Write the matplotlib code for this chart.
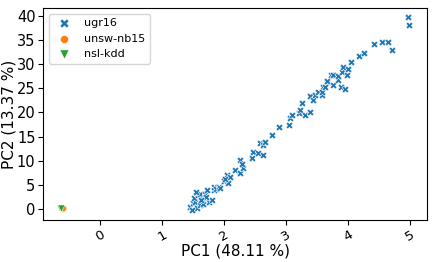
import matplotlib
matplotlib.use('Agg')
import matplotlib.pyplot as plt

# PC1 / PC2 coordinates
ugr_x = [1.45, 1.50, 1.53, 1.51, 1.56, 1.58, 1.61, 1.64, 1.61, 1.66, 1.69, 1.72, 1.75,
         1.80, 1.83, 1.83, 1.87, 1.91, 1.94, 1.48, 1.55, 1.70, 1.62, 1.99, 2.04, 2.07,
         2.10, 2.02, 2.18, 2.26, 2.26, 2.31, 2.28, 2.45, 2.47, 2.55, 2.58, 2.63, 2.63,
         2.66, 2.77, 2.88, 3.04, 3.06, 3.09, 3.20, 3.23, 3.25, 3.31, 3.39, 3.39, 3.44,
         3.47, 3.52, 3.58, 3.60, 3.66, 3.58, 3.62, 3.66, 3.73, 3.75, 3.76, 3.83, 3.84,
         3.89, 3.90, 3.92, 3.95, 3.98, 3.99, 4.05, 4.18, 4.25, 4.41, 4.54, 4.64, 4.70,
         4.97, 4.99]
ugr_y = [0.5, 1.2, 1.5, 2.2, 0.1, 2.8, 0.8, 2.2, 3.2, 1.0, 3.2, 3.9, 1.5,
         1.9, 3.9, 4.6, 4.2, 4.6, 4.3, -0.2, 3.6, 2.5, 1.8, 5.7, 7.0, 5.3,
         6.7, 6.2, 8.1, 10.1, 7.4, 8.4, 9.3, 10.5, 11.9, 11.5, 13.6, 11.2, 13.3,
         13.9, 15.3, 17.0, 17.4, 18.8, 19.5, 19.8, 20.5, 21.9, 19.5, 20.1, 23.4, 22.6,
         23.6, 24.3, 23.6, 25.3, 26.4, 24.3, 25.2, 26.6, 27.7, 25.6, 27.7, 26.7, 27.6,
         25.3, 28.3, 29.5, 24.9, 27.7, 28.9, 30.4, 31.7, 32.4, 34.1, 34.5, 34.5, 32.9,
         39.7, 38.1]

unsw_x = [-0.61, -0.60]
unsw_y = [0.0, 0.1]

nsl_x = [-0.65, -0.64]
nsl_y = [0.2, 0.3]

fig = plt.figure(figsize=(4.36, 2.62), dpi=100)
ax = fig.add_axes([0.099, 0.160, 0.880, 0.809])

ax.scatter(ugr_x, ugr_y, marker='X', s=26, color='#1f77b4', edgecolors='white', linewidths=0.4, label='ugr16')
ax.scatter(unsw_x, unsw_y, marker='o', s=20, color='#ff7f0e', edgecolors='white', linewidths=0.4, label='unsw-nb15')
ax.scatter(nsl_x, nsl_y, marker='v', s=26, color='#2ca02c', edgecolors='white', linewidths=0.4, label='nsl-kdd')

ax.set_xlim(-0.92, 5.27)
ax.set_ylim(-2.3, 41.6)
ax.set_xticks([0, 1, 2, 3, 4, 5])
ax.set_yticks([0, 5, 10, 15, 20, 25, 30, 35, 40])
ax.tick_params(axis='y', labelsize=10.5, pad=2)
ax.tick_params(axis='x', labelsize=9.5, pad=2)
plt.xticks(rotation=30)
ax.set_xlabel('PC1 (48.11 %)', fontsize=11, labelpad=0)
ax.set_ylabel('PC2 (13.37 %)', fontsize=11, labelpad=0)
ax.legend(loc='upper left', fontsize=8, markerscale=1.3)

fig.savefig('out.png', dpi=100)
